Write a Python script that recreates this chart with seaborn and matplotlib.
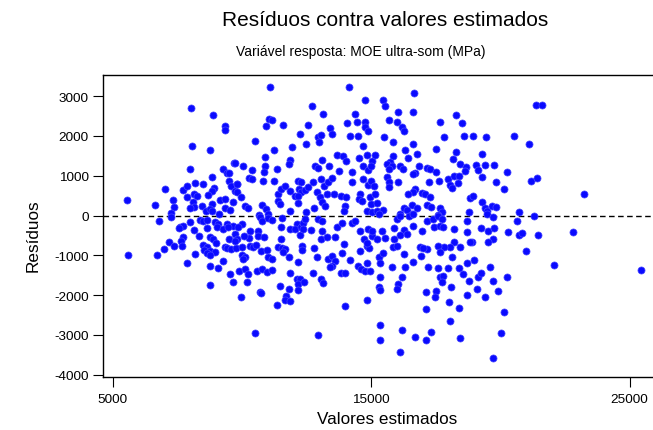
import matplotlib
matplotlib.use("Agg")
import matplotlib.pyplot as plt
import seaborn as sns
import pandas as pd

# ---- data (fitted values, residuals), grouped by region ----
fit_a = [8030, 8880, 9360, 9335, 8080, 8780, 7990, 9705, 9280, 9410, 9510, 8840, 7040, 7700, 7890,
         8185, 8505, 8920, 8830, 8670, 9510, 9580, 9800, 9730, 8160, 8275, 7890, 7350, 5540, 6640,
         7370, 8095, 8160, 7990, 8470, 8610, 8830, 8765, 8855, 9165, 9360, 9335, 9540, 9670, 9125,
         7255, 7255, 6780, 7990, 8380, 8505, 8640, 8960, 9090, 9410, 9670, 7600, 7730]
res_a = [2694, 2518, 2257, 2156, 1739, 1646, 1168, 1312, 1168, 1060, 1060, 960, 666, 641, 734,
         817, 784, 684, 623, 515, 870, 749, 784, 616, 540, 498, 473, 397, 390, 264,
         214, 331, 206, 181, 231, 121, 289, 163, 113, 390, 415, 181, 146, 347, 30,
         63, -30, -138, -171, -106, -131, -113, -156, -206, -206, -256, -281, -256]

fit_b = [7565, 8160, 8350, 8765, 8895, 8995, 7730, 7645, 7190, 7370, 7670, 7000, 8505, 8640, 8535,
         8765, 8960, 8640, 8765, 9345, 9410, 9565, 9770, 9515, 9730, 9820, 5605, 6700, 8185, 7890,
         9260, 8765, 9090, 9540, 9670, 9875, 8765, 9950, 8640, 9025, 9280, 9475]
res_b = [-314, -364, -508, -548, -590, -699, -548, -648, -666, -759, -767, -842, -734, -799, -867,
         -885, -925, -950, -985, -784, -817, -842, -817, -590, -465, -590, -993, -993, -968, -1194,
         -1136, -1269, -1320, -1470, -1664, -1387, -1747, -2040, -314, -281, -339, -281]

fit_c = [11100, 14145, 14765, 12725, 13140, 14375, 11060, 11180, 10920, 11600, 12570, 14065, 14465, 14765,
         13410, 13475, 14765, 14890, 12250, 12955, 13050, 13000, 14175, 14505, 10520, 12470, 14700, 11920,
         11255, 10895, 10895, 11860, 11820, 13090, 13670, 13925, 14035, 14530, 14830, 15020, 15160, 9735,
         10055, 10380, 11360, 12825, 12955, 13365, 13765, 14270, 14700, 14870, 15000, 10275, 10400, 10865,
         10825, 11255, 12185, 12285, 12740, 13050, 13190, 13320, 13500, 14270, 14700, 14870, 15000, 15090,
         9825, 9825, 9965, 11390, 11520, 11650, 11845, 12065, 12205, 12295, 12425, 12555, 12175, 11390,
         11455, 12890, 13020, 13085, 13210, 13275, 13580, 13835, 14020, 13995, 13965, 14570, 14510, 14660,
         14955, 15000, 14830, 15020, 10120, 10225, 10790, 10920, 11845, 12175, 12470, 12800, 10660, 11020]
res_c = [3222, 3222, 2903, 2744, 2551, 2551, 2425, 2392, 2242, 2274, 2282, 2325, 2342, 2357,
         2191, 2048, 2216, 2116, 2048, 1965, 2023, 1840, 1990, 1990, 1865, 1797, 1739, 1714,
         1646, 1462, 1236, 1395, 1287, 1395, 1520, 1488, 1377, 1437, 1520, 1377, 1520, 1319,
         1236, 1151, 1168, 1236, 1186, 1236, 1126, 1086, 1236, 1151, 1236, 935, 917, 1086,
         875, 867, 875, 834, 834, 917, 734, 834, 935, 850, 917, 767, 875, 734,
         792, 599, 465, 540, 666, 734, 623, 498, 666, 583, 649, 709, 483, 372,
         289, 583, 457, 331, 231, 540, 540, 498, 457, 246, 121, 540, 415, 372,
         457, 289, 121, 95, 231, 181, 264, 163, 105, 314, 95, 181, 13, 38]

fit_d = [10700, 10765, 11020, 11150, 11540, 9990, 9835, 10315, 10610, 10610, 10275, 10095, 9735, 9990,
         10315, 10445, 10535, 10865, 11505, 11515, 11860, 12120, 12055, 12285, 12375, 12440, 12250, 12375,
         12680, 12935, 13115, 13115, 13065, 13285, 13605, 13670, 13865, 14250, 14380, 14575, 14870, 14740,
         15020, 14830, 14920, 13965, 10740, 10960, 11000, 11180, 11385, 11540, 11670, 11600, 11820, 12310,
         12310, 12185, 12790, 12895, 9990, 10120, 10055, 13320, 13475, 13605, 13500, 13410, 13865, 14185,
         14480, 14610, 14830, 14765, 14955, 14575, 14830, 10120, 10250, 10185, 10570, 10765, 10960, 11150,
         11860, 12120, 12250, 12185, 12415, 12765, 13065, 13150, 13835, 13995, 11475, 11820, 12160, 10710,
         10750, 11700, 11670, 11860, 11375, 13995, 14830, 10505, 12955]
res_d = [-30, -131, -63, -113, -63, -214, -297, -382, -382, -508, -565, -508, -633, -799,
         -759, -799, -734, -532, -281, -590, -339, -214, -339, -297, -196, -88, -482, -339,
         -364, -88, -147, -382, -590, -532, -548, -297, -196, -196, -147, -382, -339, -590,
         -508, -759, -817, -716, -900, -867, -1035, -1093, -799, -824, -842, -925, -1035, -759,
         -867, -1176, -817, -1035, -985, -1050, -1093, -1093, -1010, -1136, -1262, -1302, -950, -1118,
         -1262, -1345, -1201, -1402, -1402, -900, -699, -1345, -1470, -1679, -1387, -1345, -1428, -1370,
         -1453, -1596, -1596, -1721, -1679, -1453, -1596, -1704, -1453, -1453, -1764, -1847, -1872, -1930,
         -1955, -2015, -2124, -2157, -2241, -2267, -2124, -2960, -2995]

fit_e = [16670, 15470, 15540, 16050, 16630, 15695, 16015, 16210, 16250, 18275, 17665, 18530, 15500, 15835,
         17820, 18605, 18955, 19445, 16610, 16310, 16790, 16440, 17500, 18275, 18160, 19280, 20270, 15860,
         15730, 15605, 15800, 15670, 16100, 16225, 16840, 17165, 17265, 17525, 16700, 16610, 18440, 18670,
         18635, 19060, 19410, 19140, 19280, 19755, 15630, 15670, 15705, 16055, 15150, 17220, 17640, 17965,
         18185, 18415, 18055, 18340, 18120, 19840, 20150, 16700, 16635, 16960, 17085, 17280, 16440, 16570,
         16250, 16380, 16765, 17150, 17305, 17665, 17730, 17600, 15215, 15470, 15240, 18830, 18955, 19280,
         19410, 19475, 19670, 19840, 18800, 16120, 16570]
res_e = [3071, 2911, 2744, 2608, 2608, 2408, 2342, 2216, 2131, 2526, 2342, 2317, 1965, 1855,
         1965, 1990, 1990, 1965, 1797, 1654, 1546, 1437, 1671, 1604, 1420, 1546, 1086, 1488,
         1352, 1294, 1236, 1168, 1236, 1168, 1236, 1186, 1168, 1101, 1068, 1043, 1294, 1211,
         1126, 1269, 1269, 1151, 960, 1269, 960, 834, 709, 834, 540, 834, 875, 917,
         1000, 985, 767, 817, 684, 834, 666, 666, 583, 565, 540, 457, 540, 264,
         181, 146, 181, 264, 206, 181, 95, 13, 121, 146, 314, 432, 498, 347,
         181, 121, 246, 206, 80, 38, 38]

fit_f = [15320, 16010, 16120, 16445, 16630, 17150, 17410, 17600, 17730, 18700, 19475, 19730, 17430, 17665,
         17770, 15020, 15400, 15240, 15535, 15885, 16250, 16380, 16630, 16960, 16100, 15870, 15845, 16000,
         18200, 18715, 19230, 19500, 19760, 20275, 18200, 18910, 18820, 19730, 19500, 18440, 18055, 17820,
         17600, 17665, 18120, 17150, 16890, 17020, 15320, 15345, 15475, 16275, 16920, 16635, 15795, 16310,
         15345, 16185, 16055, 15990, 15320, 15345, 17200, 17600, 17975, 18400, 18720, 18980, 19600, 17665,
         17795, 17730, 18080, 18570, 18765, 19090, 19150, 19245, 19695, 19905, 19410, 18725, 17125, 17510,
         17470, 18015, 18415, 17125, 20145, 18030, 15345, 16210, 17325, 16680, 17125, 18440, 15345, 20015,
         16120, 19730, 20250]
res_f = [38, -88, -5, -5, 38, -131, -88, -5, -88, -147, 38, -46, -281, -256,
         -281, -382, -397, -590, -565, -314, -364, -465, -256, -382, -482, -590, -784, -759,
         -339, -422, -314, -382, -314, -422, -673, -673, -673, -590, -673, -799, -799, -799,
         -759, -925, -1035, -842, -784, -817, -1050, -1201, -950, -968, -1010, -1161, -1287, -1302,
         -1538, -1538, -1721, -1847, -1805, -1872, -1287, -1320, -1320, -1320, -1201, -1118, -1287, -1538,
         -1513, -1679, -1789, -1470, -1638, -1847, -1553, -1453, -1638, -1889, -2040, -1990, -1915, -1905,
         -2040, -2181, -2324, -2350, -2417, -2644, -2744, -2877, -2920, -3046, -3129, -3079, -3129, -2953,
         -3438, -3581, -1538]

fit_g = [21370, 21600, 20540, 21110, 21195, 21425, 23230, 20725, 21280, 20640, 20700, 20830, 21450, 22790,
         20985, 22090, 25445]
res_g = [2777, 2777, 1990, 1789, 859, 935, 540, 80, -5, -147, -482, -447, -482, -422,
         -900, -1244, -1370]

y_ticks = [-4000, -3000, -2000, -1000, 0, 1000, 2000, 3000]
x_ticks = [5000, 15000, 25000]

title = "Resíduos contra valores estimados"
subtitle = "Variável resposta: MOE ultra-som (MPa)"
xlabel = "Valores estimados"
ylabel = "Resíduos"

df = pd.DataFrame({
    "fit": fit_a + fit_b + fit_c + fit_d + fit_e + fit_f + fit_g,
    "res": res_a + res_b + res_c + res_d + res_e + res_f + res_g,
})

# ---- style ----
sns.set_style("ticks")
plt.rcParams["font.family"] = ["Liberation Sans", "DejaVu Sans"]
plt.rcParams["axes.unicode_minus"] = False
plt.rcParams["text.color"] = "black"
plt.rcParams["axes.labelcolor"] = "black"

W, H = 653, 431
fig = plt.figure(figsize=(W / 100, H / 100), dpi=100)
ax = fig.add_axes([103.3 / W, (H - 378.3) / H, (W - 103.3) / W, (378.3 - 76) / H])

sns.scatterplot(data=df, x="fit", y="res", ax=ax, s=26, color="#0a0aff",
                edgecolor="#4646ff", linewidth=0.5, legend=False, zorder=3)
ax.axhline(0, color="black", lw=1.0, ls=(0, (4, 2.5)), zorder=2)

ax.set_xlim(4636, 25902)
ax.set_ylim(-4066, 3531)
ax.set_xticks(x_ticks)
ax.set_yticks(y_ticks)
ax.set_xticklabels([str(v) for v in x_ticks])
ax.set_yticklabels([str(v) for v in y_ticks])
ax.tick_params(axis="both", direction="out", length=7.5, width=0.8, colors="black",
               labelcolor="black", labelsize=9.7)
ax.tick_params(axis="x", pad=4)
ax.tick_params(axis="y", pad=3)

for side in ["left", "bottom", "top"]:
    ax.spines[side].set_visible(True)
    ax.spines[side].set_color("black")
    ax.spines[side].set_linewidth(1.0)
ax.spines["right"].set_visible(False)

ax.set_xlabel(xlabel, fontsize=12.3, va="center", ha="center", color="black")
ax.xaxis.set_label_coords((387 - 103.3) / 549.7, (378.3 - 420) / 302.3)
ax.set_ylabel(ylabel, fontsize=12.3, va="center", ha="center", color="black")
ax.yaxis.set_label_coords((33 - 103.3) / 549.7, (378.3 - 236) / 302.3)

fig.text(384.7 / W, 1 - 20 / H, title, ha="center", va="center", fontsize=15, color="black")
fig.text(361 / W, 1 - 52 / H, subtitle, ha="center", va="center", fontsize=10, color="black")

fig.savefig("out.png", dpi=100)
